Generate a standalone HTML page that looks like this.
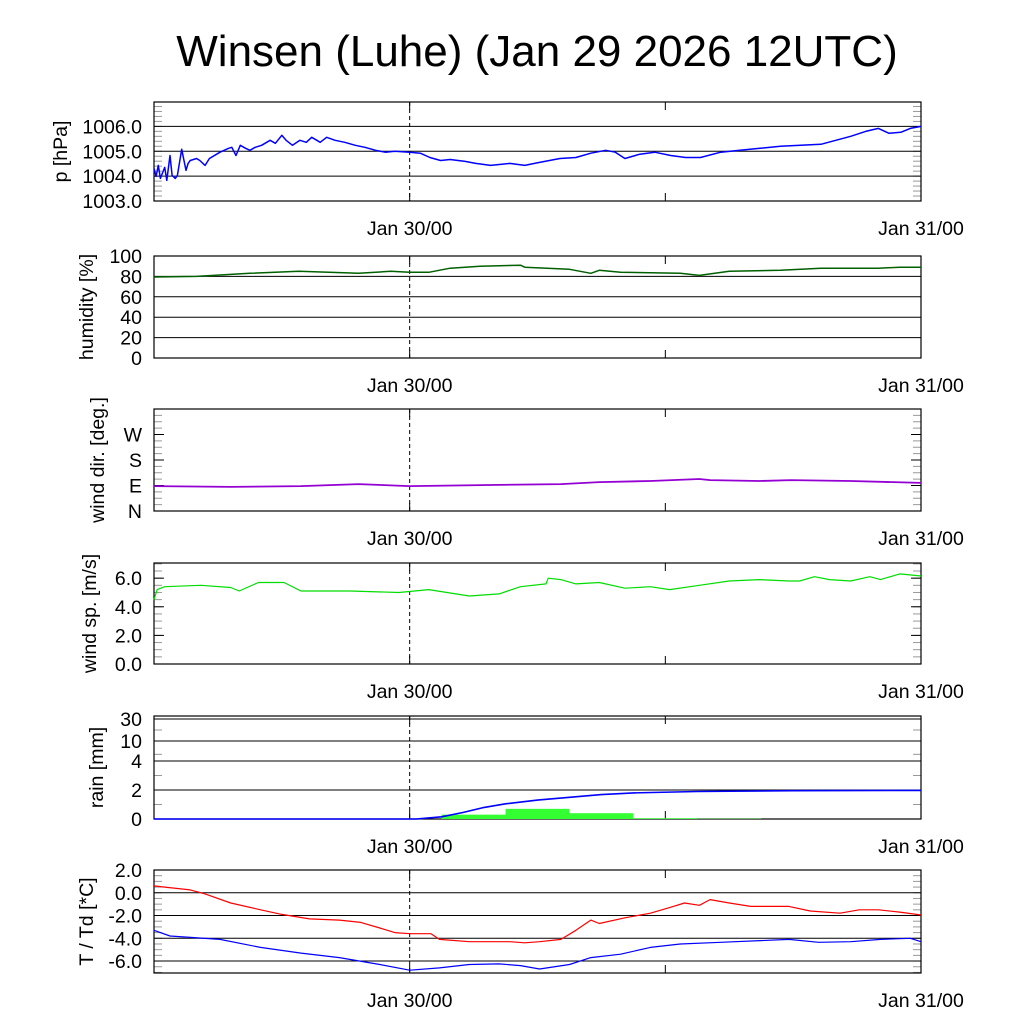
<!DOCTYPE html>
<html><head><meta charset="utf-8"><style>
body{margin:0;background:#fff;}
svg{display:block;font-family:"Liberation Sans",sans-serif;}
</style></head><body>
<svg id="chart" width="1024" height="1024" viewBox="0 0 1024 1024">
<rect width="1024" height="1024" fill="#fff"/>
<text x="537" y="66" font-size="44" text-anchor="middle">Winsen (Luhe) (Jan 29 2026 12UTC)</text>
</svg>
<script>
// time in hours since Jan 29 12UTC
const xLabels = ["Jan 30/00","Jan 31/00"];
const xLabelHours = [12,36];
const pHours=[0,0.1,0.2,0.3,0.5,0.6,0.75,0.85,1.0,1.1,1.3,1.5,1.6,1.7,2.0,2.15,2.4,2.6,3.1,3.5,3.65,3.85,4.05,4.3,4.5,4.75,5.05,5.45,5.7,6.0,6.2,6.5,6.85,7.15,7.4,7.8,8.1,8.5,8.95,9.45,9.9,10.4,10.85,11.3,12,12.5,12.95,13.45,13.9,14.6,15.1,15.8,16.7,17.4,18.1,19.05,19.8,20.5,21.2,21.65,22.1,22.8,23.5,24.25,24.95,25.65,26.6,27.5,28.45,29.4,30.35,31.3,32.0,32.7,33.4,34.0,34.5,35.05,35.5,36];
const pValues=[1004.31,1003.99,1004.43,1003.91,1004.35,1003.83,1004.83,1004.03,1003.91,1004.03,1005.08,1004.23,1004.51,1004.63,1004.71,1004.63,1004.43,1004.71,1004.96,1005.12,1005.16,1004.83,1005.24,1005.12,1005.04,1005.16,1005.24,1005.44,1005.32,1005.64,1005.44,1005.24,1005.44,1005.36,1005.56,1005.36,1005.56,1005.44,1005.36,1005.24,1005.16,1005.04,1004.96,1005.00,1004.96,1004.92,1004.75,1004.63,1004.67,1004.59,1004.51,1004.43,1004.51,1004.43,1004.55,1004.71,1004.75,1004.92,1005.04,1004.96,1004.71,1004.88,1004.96,1004.83,1004.75,1004.75,1004.96,1005.04,1005.12,1005.20,1005.24,1005.28,1005.44,1005.60,1005.80,1005.92,1005.72,1005.76,1005.92,1006.0];
const hHours=[0,2,4.5,6.8,9.6,11.1,12,12.9,13.9,15.3,17.2,17.4,19.5,20.5,20.9,21.9,24.7,25.6,27,29.4,31.3,34,35,36];
const hValues=[79.4,80,83,85,83,85,84,84,88,90,91,89,87,83,86,84,83,81,85,86,88,88,89,89];
const dHours=[0,3.6,6.9,9.6,12,16.2,19.1,20.9,23.3,25.6,26.1,28.4,29.9,32.7,36];
const dValues=[88,85,88,95,88,92,95,102,106,113,109,106,109,106,99];
const wHours=[0,0.15,0.5,2.2,3.6,4.0,4.9,6.1,6.9,9.2,11.5,12.9,14.8,16.2,17.2,18.4,18.5,19.1,19.8,20.9,22.1,23.3,24.2,25.6,27,28.4,29.8,30.3,31,31.7,32.7,33.6,34.1,35,36];
const wValues=[4.5,5.2,5.4,5.5,5.35,5.1,5.7,5.7,5.1,5.1,5.0,5.2,4.75,4.9,5.4,5.6,6.0,5.9,5.6,5.7,5.3,5.4,5.2,5.5,5.8,5.9,5.8,5.8,6.1,5.9,5.8,6.1,5.9,6.3,6.15];
const rainAccHours=[0,12.3,13.5,14.5,15.5,16.5,18,19.5,21,22.5,25.5,30,36];
const rainAccValues=[0,0,0.15,0.45,0.8,1.05,1.3,1.5,1.68,1.8,1.9,1.95,1.97];
const rainBarStart=[13.5,16.5,19.5,22.5,25.5];
const rainBarValues=[0.3,0.7,0.4,0.05,0.02];
const tHours=[0,0.5,1.7,2.4,3.6,5.0,6.0,7.3,8.7,9.7,10.6,11.3,12,13,13.4,14.8,16.7,17.4,18.1,19.1,19.8,20.5,20.9,22.1,23.3,24.2,24.9,25.6,26.1,27,28,29.8,30.8,32.2,33.1,34,35,36];
const tValues=[0.6,0.5,0.25,-0.1,-0.9,-1.5,-1.9,-2.3,-2.4,-2.6,-3.1,-3.5,-3.6,-3.6,-4.1,-4.3,-4.3,-4.4,-4.3,-4.1,-3.3,-2.4,-2.7,-2.2,-1.8,-1.3,-0.9,-1.1,-0.6,-0.9,-1.2,-1.2,-1.6,-1.8,-1.5,-1.5,-1.7,-1.95];
const tdHours=[0,0.75,3.1,5.0,6.9,8.7,10.6,12,13.4,14.8,16.2,17.2,18.1,19.5,20.5,21.9,23.3,24.7,26.6,29.8,31.2,32.7,34.1,35.5,36];
const tdValues=[-3.3,-3.8,-4.1,-4.8,-5.3,-5.7,-6.3,-6.8,-6.6,-6.3,-6.25,-6.4,-6.7,-6.3,-5.7,-5.4,-4.8,-4.5,-4.35,-4.1,-4.35,-4.3,-4.1,-4.0,-4.3];

const NS="http://www.w3.org/2000/svg";
const svg=document.getElementById('chart');
const X0=154,X1=921,HMAX=36,FS=19.5;
function xs(h){return X0+(X1-X0)*h/HMAX;}
function mk(tag,attrs,parent){const e=document.createElementNS(NS,tag);for(const k in attrs)e.setAttribute(k,attrs[k]);(parent||svg).appendChild(e);return e;}
function linY(top,bot,vmin,vmax){return v=>bot-(v-vmin)/(vmax-vmin)*(bot-top);}

function panel(name,top,bot,yfn,ticks,tickLabels,minor,ylabel,lx){
  const g=mk('g',{});
  
  
  minor.forEach(v=>{const y=yfn(v);mk('line',{x1:X0,x2:X0+8,y1:y,y2:y,stroke:'#999','stroke-width':1},g);mk('line',{x1:X1-8,x2:X1,y1:y,y2:y,stroke:'#999','stroke-width':1},g);});
  ticks.forEach((v,i)=>{const y=yfn(v);
    const l=mk('line',{x1:X0,x2:X1,y1:y,y2:y,stroke:'#000','stroke-width':1},g);
    
    
    const t=mk('text',{x:X0-12,y:y+7,'font-size':FS,'text-anchor':'end'},g);t.textContent=tickLabels[i];
    
    
  });
  mk('rect',{x:X0,y:top,width:X1-X0,height:bot-top,fill:'none',stroke:'#000','stroke-width':1.2},g);
  mk('line',{x1:xs(12),x2:xs(12),y1:top,y2:bot,stroke:'#000','stroke-dasharray':'4,3','stroke-width':1},g);
  [12,24].forEach(h=>{mk('line',{x1:xs(h),x2:xs(h),y1:bot-8,y2:bot,stroke:'#000'},g);mk('line',{x1:xs(h),x2:xs(h),y1:top,y2:top+8,stroke:'#000'},g);});
  xLabels.forEach((s,i)=>{const t=mk('text',{x:xs(xLabelHours[i]),y:bot+34,'font-size':FS,'text-anchor':'middle'},g);t.textContent=s;
    
    });
  const cy=(top+bot)/2;
  const yl=mk('text',{x:0,y:0,'font-size':FS,'text-anchor':'middle',transform:`translate(${lx},${cy}) rotate(-90)`},g);yl.textContent=ylabel;
  
  
  return g;
}
function line(hs,vs,yfn,color,name,w){
  const d=hs.map((h,i)=>(i?'L':'M')+xs(h).toFixed(1)+','+yfn(vs[i]).toFixed(1)).join('');
  const p=mk('path',{d:d,fill:'none',stroke:color,'stroke-width':w||1.4,'stroke-linejoin':'round'});
  
  
}
function rng(a,b,s){const r=[];for(let v=a;v<=b+1e-9;v+=s)r.push(+v.toFixed(3));return r;}

// pressure
const yP=linY(102,201,1003,1006.98);
panel('pressure',102,201,yP,[1003,1004,1005,1006],['1003.0','1004.0','1005.0','1006.0'],rng(1003,1006.9,0.2),'p [hPa]',67);
line(pHours,pValues,yP,'#0000ff','pressure-line',1.5);
// humidity
const yH=linY(256,358,0,100);
panel('humidity',256,358,yH,[0,20,40,60,80,100],['0','20','40','60','80','100'],[],'humidity [%]',93);
line(hHours,hValues,yH,'#006000','humidity-line',1.5);
// wind dir
const yD=linY(409,511,0,360);
panel('wind-dir',409,511,yD,[],[],rng(0,360,22.5),'wind dir. [deg.]',104);
['N','E','S','W'].forEach((s,i)=>{const t=mk('text',{x:X0-12,y:yD(i*90)+7,'font-size':FS,'text-anchor':'end'});t.textContent=s;
  
  
  [X0,X1-10].forEach(x=>mk('line',{x1:x,x2:x+10,y1:yD(i*90),y2:yD(i*90),stroke:'#000'}));});
line(dHours,dValues,yD,'#9400d3','wind-dir-line',1.8);
// wind speed
const yW=linY(563,664,0,7.06);
panel('wind-speed',563,664,yW,[],[],rng(0,7,0.5),'wind sp. [m/s]',96);
[0,2,4,6].forEach(v=>{const t=mk('text',{x:X0-12,y:yW(v)+7,'font-size':FS,'text-anchor':'end'});t.textContent=v.toFixed(1);
  
  
  [X0,X1-10].forEach(x=>mk('line',{x1:x,x2:x+10,y1:yW(v),y2:yW(v),stroke:'#000'}));});
line(wHours,wValues,yW,'#00dd00','wind-speed-line',1.2);
// rain
const rKnots=[0,2,4,10,30,40],rPix=[819,790,761,741,719,716];
function yR(v){for(let i=1;i<rKnots.length;i++){if(v<=rKnots[i]){const f=(v-rKnots[i-1])/(rKnots[i]-rKnots[i-1]);return rPix[i-1]+f*(rPix[i]-rPix[i-1]);}}return 716;}
panel('rain',716,819,yR,[0,2,4,10,30],['0','2','4','10','30'],[1,3,6,20],'rain [mm]',103);
rainBarStart.forEach((h,i)=>{const r=mk('rect',{x:xs(h),y:yR(rainBarValues[i]),width:xs(h+3)-xs(h),height:819-yR(rainBarValues[i]),fill:'#33ff33'});
  
  });
line(rainAccHours,rainAccValues,yR,'#0000ff','rain-accumulated-line',1.6);
// temperature
const yT=linY(870,973,-7.05,2);
panel('temperature',870,973,yT,[-6,-4,-2,0,2],['-6.0','-4.0','-2.0','0.0','2.0'],rng(-7,2,0.5),'T / Td [*C]',93);
line(tHours,tValues,yT,'#ff0000','temperature-line',1.2);
line(tdHours,tdValues,yT,'#0000ff','dewpoint-line',1.2);
</script>
</body></html>
